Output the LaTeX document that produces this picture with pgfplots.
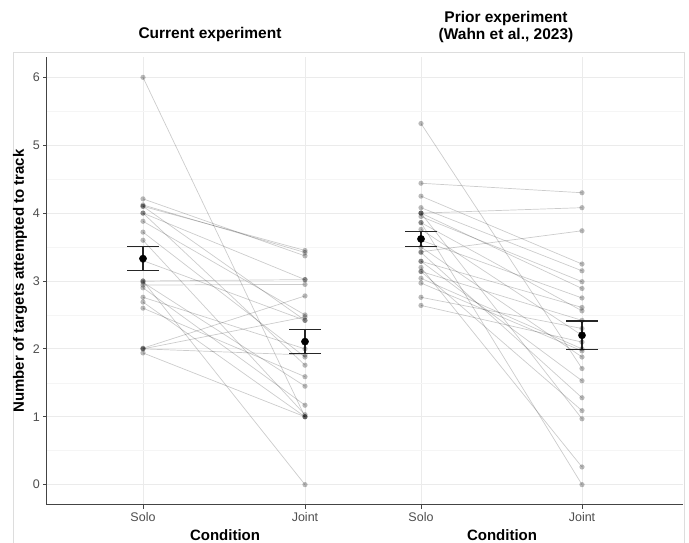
\documentclass[border=0pt]{standalone}
\usepackage{pgfplots}
\usepackage{pgfplotstable}
\pgfplotsset{compat=1.18}
\usepackage{fontspec}
\setmainfont{Liberation Sans}
\definecolor{ticklab}{HTML}{4D4D4D}
\definecolor{axline}{HTML}{444444}
\definecolor{gridmaj}{HTML}{EBEBEB}
\definecolor{gridmin}{HTML}{F5F5F5}
\definecolor{border}{HTML}{DDDDDD}

% Current experiment: solo, joint
\pgfplotstableread{
s j
6.00 1.00
4.21 3.37
4.12 3.42
4.10 3.45
4.10 2.42
4.00 3.02
4.00 1.76
3.88 2.50
3.72 1.88
3.60 1.03
3.30 2.42
3.00 0.00
3.00 3.02
2.98 1.45
2.94 2.95
2.90 1.17
2.76 2.00
2.69 1.00
2.60 1.59
2.01 2.78
2.00 2.47
2.00 1.91
1.94 1.00
}\cur

% Prior experiment: solo, joint
\pgfplotstableread{
s j
4.44 4.30
4.00 4.08
3.43 3.74
5.32 1.71
4.25 3.25
4.08 3.15
3.95 2.99
3.86 2.56
3.76 2.20
4.00 2.89
3.60 2.75
3.29 2.61
3.14 2.42
3.04 2.00
2.97 1.97
2.76 2.30
2.64 2.10
3.29 1.53
3.42 1.28
3.14 1.09
4.00 0.97
3.20 0.26
3.86 0.00
3.50 1.88
}\prior

\begin{document}
\begin{tikzpicture}[x=1pt,y=1pt]
\useasboundingbox (0,0) rectangle (689,543);
\draw[border, line width=0.8pt] (13,-2) -- (13,491) -- (684,491) -- (684,-2);
\pgfplotstablegetrowsof{\cur}\pgfmathtruncatemacro{\nc}{\pgfplotsretval-1}
\pgfplotstablegetrowsof{\prior}\pgfmathtruncatemacro{\np}{\pgfplotsretval-1}
\begin{axis}[
  at={(47pt,38pt)}, anchor=south west,
  scale only axis, width=636pt, height=448pt,
  xmin=47, xmax=683, ymin=-0.3, ymax=6.3,
  axis x line*=bottom, axis y line*=left,
  axis line style={-, draw=axline, line width=1pt},
  xtick={143,305,421,582}, xticklabels={Solo,Joint,Solo,Joint},
  ytick={0,1,2,3,4,5,6},
  minor ytick={0.5,1.5,2.5,3.5,4.5,5.5},
  grid=both,
  major grid style={draw=gridmaj, line width=0.9pt},
  minor grid style={draw=gridmin, line width=0.6pt},
  tick align=outside, major tick length=3.7pt, minor tick length=0pt,
  tick style={draw=axline, line width=0.8pt},
  tick label style={font=\fontsize{12.5}{14}\selectfont, text=ticklab},
  /pgf/number format/assume math mode=true,
  clip=false,
]
\pgfplotsforeachungrouped \i in {0,...,\nc}{
  \pgfplotstablegetelem{\i}{s}\of{\cur}\let\vs\pgfplotsretval
  \pgfplotstablegetelem{\i}{j}\of{\cur}\let\vj\pgfplotsretval
  \edef\tmp{\noexpand\addplot[black, draw opacity=0.2, line width=0.7pt, mark=none] coordinates {(143,\vs) (305,\vj)};}\tmp
}
\pgfplotsforeachungrouped \i in {0,...,\np}{
  \pgfplotstablegetelem{\i}{s}\of{\prior}\let\vs\pgfplotsretval
  \pgfplotstablegetelem{\i}{j}\of{\prior}\let\vj\pgfplotsretval
  \edef\tmp{\noexpand\addplot[black, draw opacity=0.2, line width=0.7pt, mark=none] coordinates {(421,\vs) (582,\vj)};}\tmp
}
\pgfplotsset{ptstyle/.style={only marks, mark=*, mark size=2.6pt, mark options={draw opacity=0, fill=black, fill opacity=0.27}}}
\addplot[ptstyle] table[x expr=143, y=s]{\cur};
\addplot[ptstyle] table[x expr=305, y=j]{\cur};
\addplot[ptstyle] table[x expr=421, y=s]{\prior};
\addplot[ptstyle] table[x expr=582, y=j]{\prior};
% means with error bars
\addplot[only marks, mark=*, mark size=3.6pt, black,
  error bars/.cd, y dir=both, y explicit,
  error bar style={line width=1.1pt, draw=black!85},
  error mark options={rotate=90, mark size=16pt, line width=1.1pt, draw=black!85}]
  coordinates {
  (143,3.33) +- (0,0.18)
  (305,2.107) +- (0,0.175)
  (421,3.62) +- (0,0.115)
  (582,2.20) +- (0,0.21)
  };
\end{axis}
\node[font=\fontsize{15.5}{18}\selectfont\bfseries] at (210,508) {Current experiment};
\node[font=\fontsize{15.5}{18}\selectfont\bfseries, align=center] at (506,516) {Prior experiment\\(Wahn et al., 2023)};
\node[font=\fontsize{15}{18}\selectfont\bfseries] at (225,8) {Condition};
\node[font=\fontsize{15}{18}\selectfont\bfseries] at (502,8) {Condition};
\node[font=\fontsize{15}{18}\selectfont\bfseries, rotate=90] at (20,262) {Number of targets attempted to track};
\end{tikzpicture}
\end{document}
